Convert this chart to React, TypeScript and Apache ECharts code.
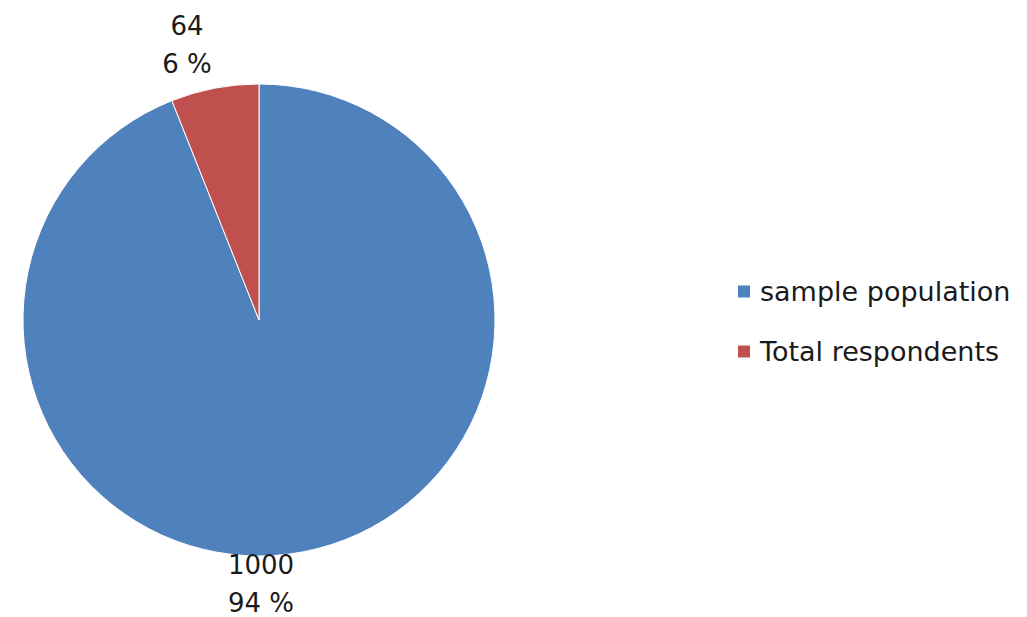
import React, { useEffect, useRef } from "react";
import * as echarts from "echarts";

const categories = ["sample population", "Total respondents"];
const values = [1000, 64];
const percents = ["94 %", "6 %"];
const colors = ["#4F81BD", "#C0504D"];

export default function App() {
  const ref = useRef<HTMLDivElement>(null);
  useEffect(() => {
    if (!ref.current) return;
    const chart = echarts.init(ref.current, null, { renderer: "svg" });
    const labelPos = [
      { x: 261, y: 584 },
      { x: 187, y: 45 },
    ];
    chart.setOption({
      animation: false,
      backgroundColor: "#ffffff",
      color: colors,
      legend: {
        orient: "vertical",
        left: 731,
        top: 273,
        itemWidth: 14,
        itemHeight: 14,
        itemGap: 33,
        icon: "rect",
        textStyle: {
          fontFamily: "DejaVu Sans",
          fontSize: 27,
          color: "#1a1a1a",
          padding: [0, 0, 0, 4],
        },
        data: categories,
      },
      series: [
        {
          type: "pie",
          center: [259, 320],
          radius: 236,
          startAngle: 90,
          clockwise: true,
          silent: true,
          itemStyle: { borderColor: "#ffffff", borderWidth: 1 },
          label: {
            show: true,
            position: "outside",
            fontFamily: "DejaVu Sans",
            fontSize: 26,
            lineHeight: 38,
            color: "#1a1a1a",
            align: "center",
            formatter: (p: any) => `${values[p.dataIndex]}\n${percents[p.dataIndex]}`,
          },
          labelLine: { show: false },
          labelLayout: (p: any) => ({
            x: labelPos[p.dataIndex].x,
            y: labelPos[p.dataIndex].y,
            align: "center",
            verticalAlign: "middle",
          }),
          data: categories.map((name, i) => ({ name, value: values[i] })),
        },
      ],
    });
    return () => chart.dispose();
  }, []);
  return (
    <div
      ref={ref}
      style={{ position: "fixed", left: 0, top: 0, width: 1027, height: 617 }}
    />
  );
}
